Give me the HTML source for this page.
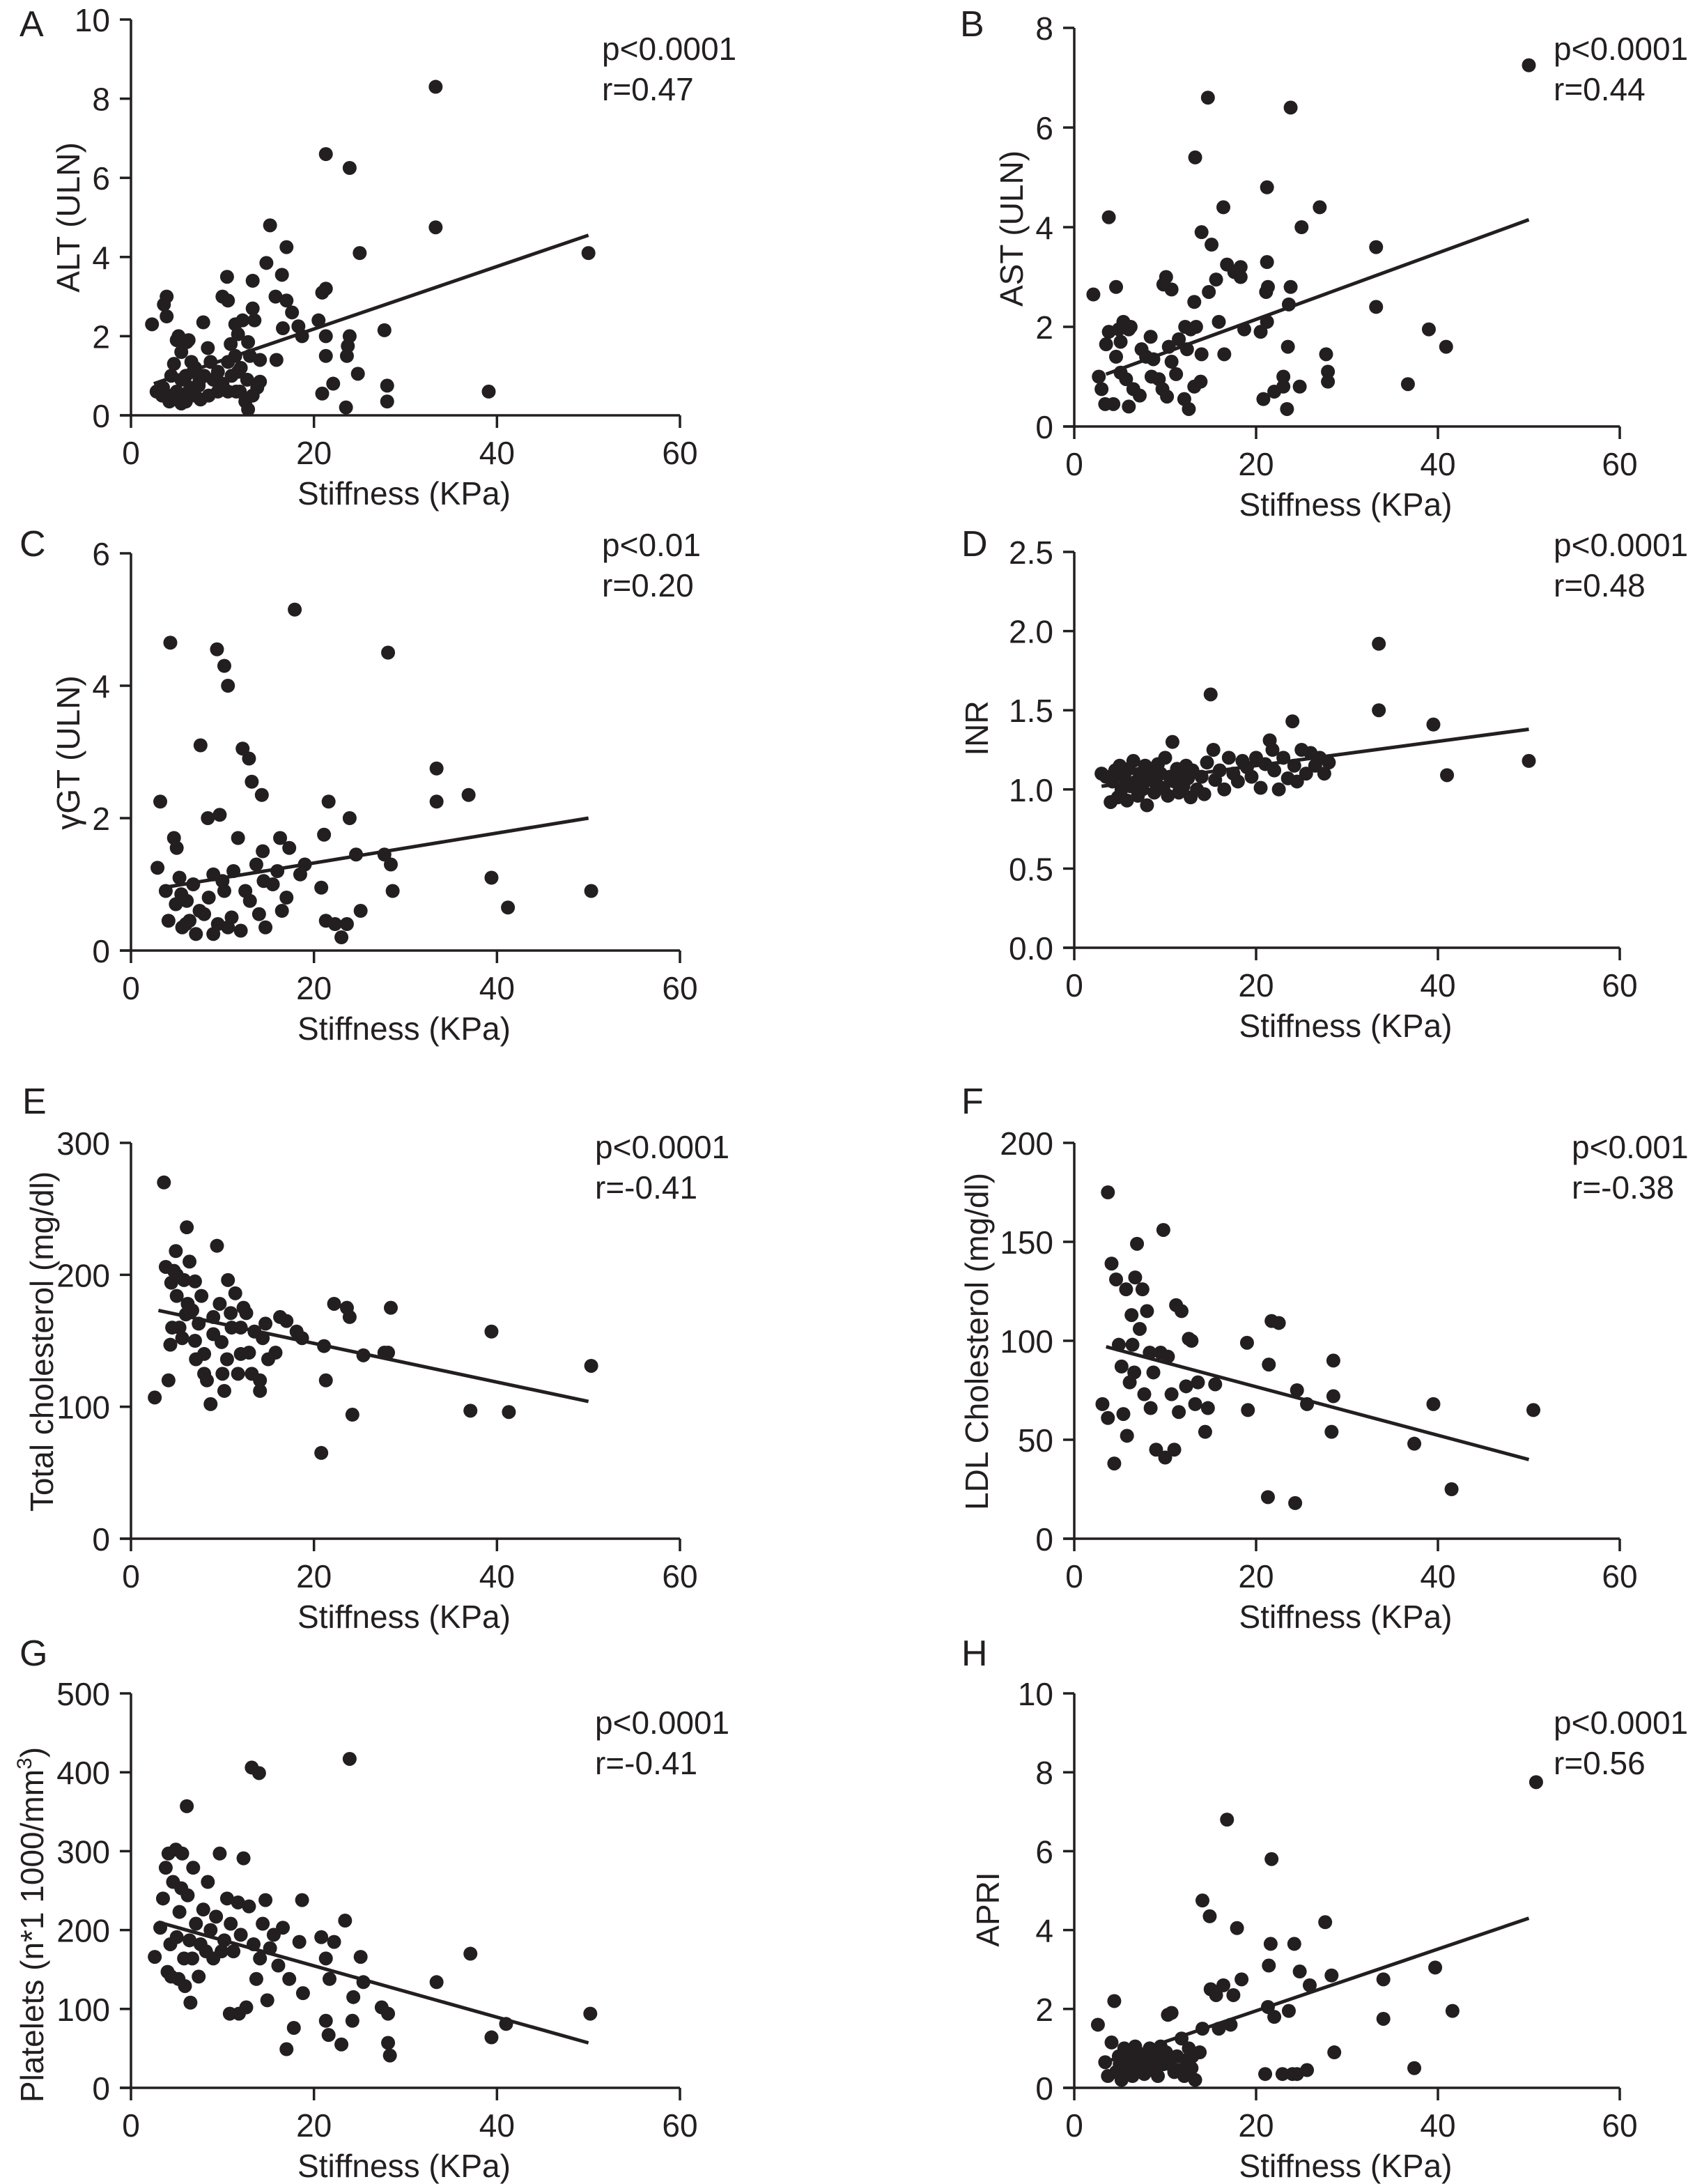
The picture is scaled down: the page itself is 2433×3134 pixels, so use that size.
<!DOCTYPE html>
<html><head><meta charset="utf-8"><style>
html,body{margin:0;padding:0;background:#fff;}
svg{display:block;}
text{font-family:"Liberation Sans",sans-serif;fill:#231f20;}
</style></head>
<body>
<svg id="fig" width="2433" height="3134" viewBox="0 0 2433 3134" xmlns="http://www.w3.org/2000/svg"></svg>
<script>
// ---- Data (Stiffness KPa vs. parameter) ----
const xTicks = [0, 20, 40, 60];
const aX = [2.3,3.6,3.9,3.9,2.8,3.4,4.2,4.7,4.4,5,5.2,5.5,6.1,6.3,5.5,6.3,6.8,6.6,7.4,7.6,7.9,8.4,8.7,9,9.5,10,10.6,10.5,10.9,10.6,10.6,11.4,11.7,11.7,11.4,12.2,11.9,12.5,12.8,12.7,12.8,13.3,13.3,13.5,13,14.1,14.1,13.3,13.8,14.8,15.2,15.8,15.9,16.5,16.6,17,17,17.6,18.3,18.7,20.5,20.9,21.3,21.3,21.3,21.3,20.9,22.1,23.9,23.9,23.7,23.6,23.5,24.8,25,27.7,28,28,33.3,33.3,39.1,50,3.5,4,4.8,5.5,6,6.5,7,7.5,8,8.5,9.5,10,11,11.5,12,6,5,7];
const aY = [2.3,2.8,3.0,2.5,0.6,0.5,0.35,1.3,1.0,1.9,2.0,1.6,1.85,1.9,0.3,0.6,1.1,1.35,0.75,0.4,2.35,1.7,1.35,0.9,0.6,3.0,2.9,3.5,1.8,1.35,0.6,1.5,1.1,2.05,2.3,2.4,0.6,0.35,0.15,0.9,1.85,2.7,3.4,2.4,1.5,1.4,0.85,0.5,0.7,3.85,4.8,3.0,1.4,3.55,2.2,4.25,2.9,2.6,2.25,2.0,2.4,3.1,3.2,6.6,2.0,1.5,0.55,0.8,6.25,2.0,1.75,1.5,0.2,1.05,4.1,2.15,0.75,0.35,8.3,4.75,0.6,4.1,0.7,0.5,0.45,0.9,1.0,0.7,1.2,0.9,1.0,0.5,1.1,0.8,1.0,0.6,1.2,0.35,0.6,0.5];
const aFit = [2.5, 0.8, 50, 4.55];
const bX = [2.1,3.8,4.6,3.5,3.8,2.7,3,3.4,4.3,4.6,5.1,4.9,5.4,6,6.2,6,5.1,5.7,6.5,7.2,7.4,7.9,8.4,8.7,8.5,9.3,9.7,10.2,9.8,10.1,10.7,10.4,10.7,11.2,11.5,12.1,12.2,12.4,12.6,12.8,13.2,13.3,13.4,13.2,13.9,14,14,14.7,14.8,15.1,15.6,15.9,16.4,16.5,16.8,17.6,18.3,18.3,18.7,20.5,21.2,21.1,21.3,21.2,21.2,20.8,22,23,23,23.5,23.6,23.8,23.8,23.4,24.8,25,27,27.7,27.9,27.9,33.2,33.2,36.7,39,40.9,50];
const bY = [2.65,4.2,2.8,1.65,1.9,1.0,0.75,0.45,0.45,1.4,1.7,1.95,2.1,1.95,2.0,0.4,1.08,0.95,0.75,0.62,1.55,1.4,1.8,1.35,1.0,0.95,0.75,0.6,2.85,3.0,2.75,1.6,1.3,1.05,1.75,0.55,2.0,1.55,0.35,1.95,2.5,5.4,2.0,0.8,0.9,3.9,1.45,6.6,2.7,3.65,2.95,2.1,4.4,1.45,3.25,3.1,3.2,3.0,1.95,1.9,2.1,2.7,2.8,3.3,4.8,0.55,0.7,1.0,0.8,1.6,2.45,2.8,6.4,0.35,0.8,4.0,4.4,1.45,1.1,0.9,3.6,2.4,0.85,1.95,1.6,7.25];
const bFit = [3.5, 1.05, 50, 4.15];
const cX = [3.2,4.3,2.9,4.7,5,3.8,4.1,4.9,5.3,5.6,6.1,6.4,6.8,7.1,7.6,8,8.4,9,9.4,9.7,10.2,10.2,10.6,10.6,11.2,11.7,12.2,12.5,12.9,13.2,13.7,14,14.3,14.4,14.7,15.5,16,16.3,17,17.3,17.9,18.5,19,20.8,21.1,21.6,21.3,22.3,23,23.6,23.9,24.6,25.1,27.7,28.1,28.4,28.6,33.4,33.4,36.9,39.4,41.2,50.3,6,7.5,8.5,9.5,11,12,13,5.5,10,14.5,16.5,9];
const cY = [2.25,4.65,1.25,1.7,1.55,0.9,0.45,0.7,1.1,0.35,0.75,0.45,1.0,0.25,3.1,0.55,2.0,1.15,4.55,2.05,4.3,0.9,4.0,0.35,1.2,1.7,3.05,0.9,2.9,2.55,1.3,0.55,2.35,1.5,0.35,1.0,1.2,1.7,0.8,1.55,5.15,1.15,1.3,0.95,1.75,2.25,0.45,0.4,0.2,0.4,2.0,1.45,0.6,1.45,4.5,1.3,0.9,2.75,2.25,2.35,1.1,0.65,0.9,0.4,0.6,0.8,0.4,0.5,0.3,0.75,0.85,1.05,1.05,0.6,0.25];
const cFit = [3.5, 0.95, 50, 2.0];
const dX = [3,3.5,4,4.2,4.5,4.8,5,5.2,5.5,5.8,6,6.2,6.5,6.8,7,7.2,7.5,7.8,8,8.2,8.5,8.8,9,9.2,9.5,9.8,10,10.3,10.5,10.8,11,11.3,11.5,11.8,12,12.3,12.5,12.8,13,13.5,14,14.3,14.6,15,15.3,15.5,16,16.5,17,17.5,18,18.5,19,19.5,20,20.5,21,21.5,21.8,22,22.5,23,23.5,24,24.2,24.5,25,25.5,26,26.5,27,27.5,28,33.5,33.5,39.5,41,50];
const dY = [1.1,1.08,0.92,1.05,1.12,0.95,1.15,1.0,1.08,0.93,1.13,1.02,1.18,1.05,0.96,1.1,1.0,1.15,0.9,1.06,1.12,0.98,1.04,1.16,1.1,1.01,1.2,0.96,1.08,1.3,1.05,1.13,0.98,1.1,1.02,1.15,1.07,0.95,1.12,1.0,1.08,0.97,1.17,1.6,1.25,1.06,1.12,1.0,1.2,1.1,1.05,1.18,1.14,1.08,1.2,1.01,1.16,1.31,1.25,1.12,1.0,1.2,1.07,1.43,1.15,1.05,1.25,1.1,1.23,1.15,1.2,1.1,1.17,1.92,1.5,1.41,1.09,1.18];
const dFit = [3, 1.02, 50, 1.38];
const eX = [2.6,3.6,3.8,4.1,4.3,4.4,4.7,4.9,5,5.3,5.6,5.8,6.1,6.2,6.4,6.7,7,7.1,7.4,7.7,8,8.3,8.7,9,9.4,9.7,9.9,10.2,10.5,10.6,10.9,11.4,11.7,12,12.3,12.6,12.9,13.2,13.5,14.1,14.1,14.4,14.7,15,15.8,16.3,17,18.1,18.7,20.8,21.1,21.3,22.2,23.6,23.9,24.2,25.4,27.7,28.1,28.4,37.1,39.4,41.3,50.3,5,6,8,9,10,11,12,4.5,7];
const eY = [107,270,206,120,147,194,203,218,184,160,152,196,236,178,210,173,150,136,163,184,125,120,102,168,222,178,149,112,136,196,171,186,125,160,175,171,141,125,157,112,120,152,163,136,141,168,165,157,152,65,146,120,178,175,168,94,139,141,141,175,97,157,96,131,200,170,140,155,125,160,140,160,195];
const eFit = [3, 173, 50, 104];
const fX = [3.7,4.1,4.4,3.1,3.7,4.6,4.9,5.2,5.4,5.7,5.8,6.1,6.3,6.4,6.6,6.7,6.9,7.2,7.5,7.7,8,8.3,8.4,8.7,9,9.5,9.8,10,10.3,10.7,11,11.2,11.5,11.8,12.3,12.6,12.9,13.3,13.6,14.4,14.7,15.5,19,19.1,21.3,21.4,21.7,22.5,24.3,24.5,25.6,28.3,28.5,28.5,37.4,39.5,41.5,50.5];
const fY = [175,139,38,68,61,131,98,87,63,126,52,79,113,98,84,132,149,106,126,73,115,94,66,84,45,94,156,41,92,73,45,118,64,115,77,101,100,68,79,54,66,78,99,65,21,88,110,109,18,75,68,54,90,72,48,68,25,65];
const fFit = [3.5, 97, 50, 40];
const gX = [2.6,3.2,3.5,3.8,4,4.1,4.3,4.4,4.6,4.9,5,5.2,5.3,5.5,5.6,5.8,5.9,6.1,6.2,6.4,6.5,6.7,6.8,7.1,7.4,7.6,7.9,8.2,8.4,8.7,9,9.3,9.7,9.9,10.2,10.5,10.8,10.9,11.2,11.7,11.8,12,12.3,12.6,12.9,13.2,13.4,13.7,14,14.1,14.4,14.7,14.9,15.2,15.6,16.1,16.6,17,17.3,17.8,18.4,18.7,18.8,20.8,21.3,21.3,21.6,21.7,22.2,23,23.4,23.9,24.2,24.3,25.1,25.4,27.4,28.1,28.1,28.3,33.4,37.1,39.4,41,50.2];
const gY = [166,203,240,279,147,297,182,141,261,302,191,138,223,253,297,164,129,357,244,187,108,164,279,208,141,182,226,173,261,200,164,217,297,173,187,240,94,208,173,235,94,194,291,102,230,406,182,138,399,164,208,238,111,177,194,155,203,49,138,76,185,238,120,191,164,85,67,138,185,55,212,417,85,115,166,134,102,94,57,41,134,170,64,81,94];
const gFit = [3, 210, 50, 57];
const hX = [2.6,3.4,3.7,4.1,4.4,4.6,4.9,5.2,5.5,5.8,6.1,6.4,6.7,7,7.4,7.7,8,8.3,8.6,8.9,9.2,9.5,9.8,10.1,10.3,10.7,11,11.3,11.8,12.1,12.3,12.6,12.9,13.3,13.8,14.1,14.1,14.9,15,15.6,15.9,16.4,16.8,17.2,17.5,17.9,18.4,21,21.3,21.4,21.6,21.7,22,22.9,23.6,24,24.2,24.5,24.8,25.6,25.9,27.6,28.3,28.6,34,34,37.4,39.7,41.6,50.8,5,6,7.5,9,10.5,11.5,13,6.5];
const hY = [1.6,0.65,0.3,1.15,2.2,0.4,0.8,0.2,1.0,0.5,0.7,0.3,1.05,0.55,0.85,0.35,0.7,1.0,0.45,0.75,0.3,1.05,0.6,0.9,1.85,1.9,0.4,0.8,1.25,0.3,0.7,1.0,0.5,0.2,0.9,1.5,4.75,4.35,2.5,2.35,1.5,2.6,6.8,1.6,2.35,4.05,2.75,0.35,2.05,3.1,3.65,5.8,1.8,0.35,1.95,0.35,3.65,0.35,2.95,0.45,2.6,4.2,2.85,0.9,2.75,1.75,0.5,3.05,1.95,7.75,0.6,0.9,0.6,0.5,0.6,0.45,0.8,0.4];
const hFit = [4, 0.7, 50, 4.3];

const aTicks=[0,2,4,6,8,10], bTicks=[0,2,4,6,8], cTicks=[0,2,4,6], dTicks=[0.0,0.5,1.0,1.5,2.0,2.5];
const eTicks=[0,100,200,300], fTicks=[0,50,100,150,200], gTicks=[0,100,200,300,400,500], hTicks=[0,2,4,6,8,10];

const NS="http://www.w3.org/2000/svg";
const svg=document.getElementById('fig');
function mk(tag, parent){const e=document.createElementNS(NS,tag);parent.appendChild(e);return e;}

const panels=[
 {id:'a',letter:'A',xs:aX,ys:aY,fit:aFit,yt:aTicks,ymax:10,dec:0,L:188,R:976,B:596,T:28,ttl:'ALT (ULN)',tx:96,ty:312,ann:['p<0.0001','r=0.47'],ax:864,ay:86,lx:28,ly:52},
 {id:'b',letter:'B',xs:bX,ys:bY,fit:bFit,yt:bTicks,ymax:8,dec:0,L:1542,R:2325,B:612,T:40,ttl:'AST (ULN)',tx:1450,ty:328,ann:['p<0.0001','r=0.44'],ax:2230,ay:86,lx:1378,ly:52},
 {id:'c',letter:'C',xs:cX,ys:cY,fit:cFit,yt:cTicks,ymax:6,dec:0,L:188,R:976,B:1364,T:794,ttl:'\u03b3GT (ULN)',tx:96,ty:1080,ann:['p<0.01','r=0.20'],ax:864,ay:798,lx:28,ly:798},
 {id:'d',letter:'D',xs:dX,ys:dY,fit:dFit,yt:dTicks,ymax:2.5,dec:1,L:1542,R:2325,B:1360,T:792,ttl:'INR',tx:1400,ty:1045,ann:['p<0.0001','r=0.48'],ax:2230,ay:798,lx:1380,ly:798},
 {id:'e',letter:'E',xs:eX,ys:eY,fit:eFit,yt:eTicks,ymax:300,dec:0,L:188,R:976,B:2208,T:1640,ttl:'Total cholesterol (mg/dl)',tx:58,ty:1925,ann:['p<0.0001','r=-0.41'],ax:854,ay:1662,lx:32,ly:1598},
 {id:'f',letter:'F',xs:fX,ys:fY,fit:fFit,yt:fTicks,ymax:200,dec:0,L:1542,R:2325,B:2208,T:1640,ttl:'LDL Cholesterol (mg/dl)',tx:1400,ty:1925,ann:['p<0.001','r=-0.38'],ax:2256,ay:1662,lx:1380,ly:1598},
 {id:'g',letter:'G',xs:gX,ys:gY,fit:gFit,yt:gTicks,ymax:500,dec:0,L:188,R:976,B:2996,T:2430,ttl:'Platelets (n*1 1000/mm',sup:'3',tx:44,ty:2762,ann:['p<0.0001','r=-0.41'],ax:854,ay:2488,lx:28,ly:2390},
 {id:'h',letter:'H',xs:hX,ys:hY,fit:hFit,yt:hTicks,ymax:10,dec:0,L:1542,R:2325,B:2996,T:2430,ttl:'APRI',tx:1416,ty:2740,ann:['p<0.0001','r=0.56'],ax:2230,ay:2488,lx:1380,ly:2390}
];

panels.forEach(p=>{
  const g=mk('g',svg);
  
  
  const sx=v=>p.L+(p.R-p.L)*v/60;
  const sy=v=>p.B-(p.B-p.T)*v/p.ymax;
  const lt=mk('text',g);lt.textContent=p.letter;
  lt.setAttribute('x',p.lx);lt.setAttribute('y',p.ly);lt.setAttribute('font-size','52');
  
  
  const ya=mk('line',g);ya.setAttribute('x1',p.L);ya.setAttribute('x2',p.L);ya.setAttribute('y1',p.T);ya.setAttribute('y2',p.B);
  ya.setAttribute('stroke','#231f20');ya.setAttribute('stroke-width','3.5');
  
  
  const xa=mk('line',g);xa.setAttribute('x1',p.L-16);xa.setAttribute('x2',p.R);xa.setAttribute('y1',p.B);xa.setAttribute('y2',p.B);
  xa.setAttribute('stroke','#231f20');xa.setAttribute('stroke-width','3.5');
  
  
  xTicks.forEach(t=>{
    const tl=mk('line',g);tl.setAttribute('x1',sx(t));tl.setAttribute('x2',sx(t));tl.setAttribute('y1',p.B);tl.setAttribute('y2',p.B+18);
    tl.setAttribute('stroke','#231f20');tl.setAttribute('stroke-width','3.5');
    
    
    const tx=mk('text',g);tx.textContent=t;tx.setAttribute('x',sx(t));tx.setAttribute('y',p.B+70);
    tx.setAttribute('font-size','46');tx.setAttribute('text-anchor','middle');
    
    
  });
  p.yt.forEach(t=>{
    const tl=mk('line',g);tl.setAttribute('x1',p.L-16);tl.setAttribute('x2',p.L);tl.setAttribute('y1',sy(t));tl.setAttribute('y2',sy(t));
    tl.setAttribute('stroke','#231f20');tl.setAttribute('stroke-width','3.5');
    
    
    const tx=mk('text',g);tx.textContent=t.toFixed(p.dec);tx.setAttribute('x',p.L-30);tx.setAttribute('y',sy(t)+17);
    tx.setAttribute('font-size','46');tx.setAttribute('text-anchor','end');
    
    
  });
  const xt=mk('text',g);xt.textContent='Stiffness (KPa)';xt.setAttribute('x',(p.L+p.R)/2-2);xt.setAttribute('y',p.B+128);
  xt.setAttribute('font-size','46');xt.setAttribute('text-anchor','middle');
  
  
  const yt=mk('text',g);yt.setAttribute('font-size','46');yt.setAttribute('text-anchor','middle');
  yt.setAttribute('transform','translate('+(p.tx+18)+','+p.ty+') rotate(-90)');
  yt.textContent=p.ttl;
  if(p.sup){const s=mk('tspan',yt);s.textContent=p.sup;s.setAttribute('font-size','30');s.setAttribute('dy','-17');
    const c=mk('tspan',yt);c.textContent=')';c.setAttribute('dy','17');}
  
  
  p.ann.forEach((s,i)=>{
    const a=mk('text',g);a.textContent=s;a.setAttribute('x',p.ax);a.setAttribute('y',p.ay+i*58);a.setAttribute('font-size','46');
    
    
  });
  p.xs.forEach((x,i)=>{
    const c=mk('circle',g);c.setAttribute('cx',sx(x));c.setAttribute('cy',sy(p.ys[i]));c.setAttribute('r','10');c.setAttribute('fill','#231f20');
    
    
  });
  const f=mk('line',g);f.setAttribute('x1',sx(p.fit[0]));f.setAttribute('y1',sy(p.fit[1]));f.setAttribute('x2',sx(p.fit[2]));f.setAttribute('y2',sy(p.fit[3]));
  f.setAttribute('stroke','#231f20');f.setAttribute('stroke-width','5');
  
  
});
</script>
</body></html>
